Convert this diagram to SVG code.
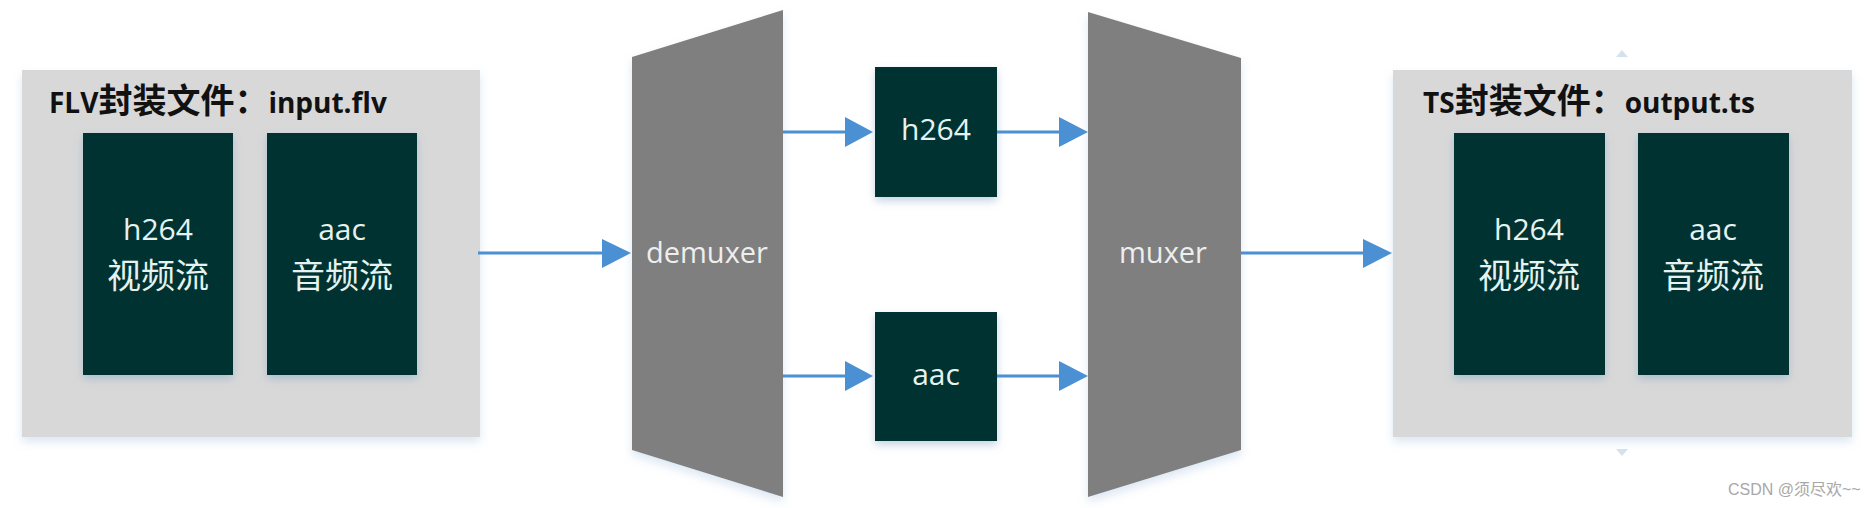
<svg xmlns="http://www.w3.org/2000/svg" width="1876" height="508" viewBox="0 0 1876 508">
  <style>
    .container { fill: #d8d8d8; }
    .stream { fill: #023231; }
    .mux { fill: #7f7f7f; }
    .title { font-family: "Open Sans", "Noto Sans CJK SC", sans-serif; font-weight: bold; font-size: 28px; fill: #111111; }
    .title .zh { font-family: "Noto Sans CJK SC", sans-serif; font-size: 34px; }
    .light { font-family: "Open Sans", "Noto Sans CJK SC", sans-serif; font-size: 30px; fill: #e6f2ef; text-anchor: middle; }
    .cjk { font-family: "Noto Sans CJK SC", sans-serif; font-size: 34px; fill: #e6f2ef; text-anchor: middle; }
    .muxtext { font-family: "Open Sans", "Noto Sans CJK SC", sans-serif; font-size: 29px; fill: #eeeeee; text-anchor: middle; }
    .edge { stroke: #4a90d2; stroke-width: 3; fill: none; }
    .head { fill: #4a90d2; }
    .handle { fill: #d4e2ee; }
    .wm { font-family: "Liberation Sans", "Noto Sans CJK SC", sans-serif; font-size: 16px; fill: #a8a8a8; }
  </style>
  <defs>
    <filter id="shadow" x="-10%" y="-10%" width="120%" height="125%">
      <feDropShadow dx="0" dy="4" stdDeviation="4" flood-color="#7f9fc0" flood-opacity="0.45"/>
    </filter>
    <filter id="shadowSoft" x="-10%" y="-10%" width="120%" height="125%">
      <feDropShadow dx="0" dy="5" stdDeviation="5" flood-color="#a8c4e0" flood-opacity="0.4"/>
    </filter>
  </defs>
  <rect width="1876" height="508" fill="#ffffff"/>

  <g id="flv-container">
    <rect class="container" x="22" y="70" width="458" height="367" filter="url(#shadowSoft)"/>
    <text class="title" x="49" y="113">FLV<tspan class="zh">封装文件：</tspan>input.flv</text>
  </g>
  <g id="flv-h264">
    <rect class="stream" x="83" y="133" width="150" height="242" filter="url(#shadow)"/>
    <text class="light" x="158" y="240">h264</text>
    <text class="cjk" x="158" y="288">视频流</text>
  </g>
  <g id="flv-aac">
    <rect class="stream" x="267" y="133" width="150" height="242" filter="url(#shadow)"/>
    <text class="light" x="342" y="240">aac</text>
    <text class="cjk" x="342" y="288">音频流</text>
  </g>

  <g id="demuxer">
    <polygon class="mux" points="632,57 783,10 783,497 632,450" filter="url(#shadowSoft)"/>
    <text class="muxtext" x="707" y="263">demuxer</text>
  </g>

  <g id="mid-h264">
    <rect class="stream" x="875" y="67" width="122" height="130" filter="url(#shadow)"/>
    <text class="light" x="936" y="140">h264</text>
  </g>
  <g id="mid-aac">
    <rect class="stream" x="875" y="312" width="122" height="129" filter="url(#shadow)"/>
    <text class="light" x="936" y="385">aac</text>
  </g>

  <g id="muxer">
    <polygon class="mux" points="1088,12 1241,58 1241,450 1088,497" filter="url(#shadowSoft)"/>
    <text class="muxtext" x="1163" y="263">muxer</text>
  </g>

  <g id="ts-container">
    <rect class="container" x="1393" y="70" width="459" height="367" filter="url(#shadowSoft)"/>
    <text class="title" x="1423" y="113">TS<tspan class="zh">封装文件：</tspan>output.ts</text>
    <polygon class="handle" points="1616,57 1628,57 1622,50"/>
    <polygon class="handle" points="1616,449 1628,449 1622,456"/>
  </g>
  <g id="ts-h264">
    <rect class="stream" x="1454" y="133" width="151" height="242" filter="url(#shadow)"/>
    <text class="light" x="1529" y="240">h264</text>
    <text class="cjk" x="1529" y="288">视频流</text>
  </g>
  <g id="ts-aac">
    <rect class="stream" x="1638" y="133" width="151" height="242" filter="url(#shadow)"/>
    <text class="light" x="1713" y="240">aac</text>
    <text class="cjk" x="1713" y="288">音频流</text>
  </g>

  <g id="connectors">
    <line class="edge" x1="478" y1="253" x2="604" y2="253"/>
    <polygon class="head" points="602,239 631,253 602,268"/>

    <line class="edge" x1="783" y1="132" x2="847" y2="132"/>
    <polygon class="head" points="845,117 873,132 845,147"/>
    <line class="edge" x1="997" y1="132" x2="1061" y2="132"/>
    <polygon class="head" points="1059,117 1088,132 1059,147"/>

    <line class="edge" x1="783" y1="376" x2="847" y2="376"/>
    <polygon class="head" points="845,361 873,376 845,391"/>
    <line class="edge" x1="997" y1="376" x2="1061" y2="376"/>
    <polygon class="head" points="1059,361 1088,376 1059,391"/>

    <line class="edge" x1="1241" y1="253" x2="1365" y2="253"/>
    <polygon class="head" points="1363,239 1392,253 1363,268"/>
  </g>

  <text class="wm" x="1728" y="495">CSDN @须尽欢~~</text>
</svg>
